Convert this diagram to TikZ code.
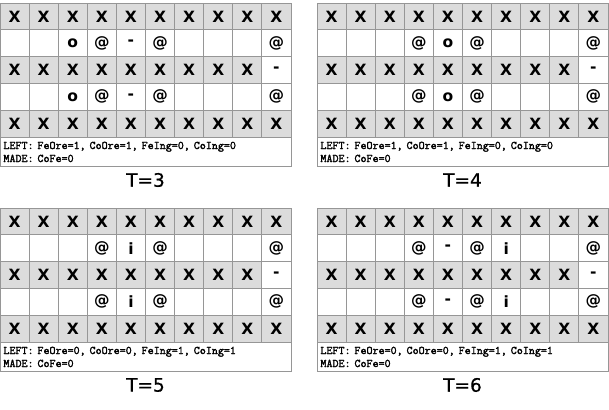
\documentclass[tikz,border=0pt]{standalone}
\usepackage{fontspec}
\usepackage{tikz}

\newfontfamily\cellfamily{DejaVu Sans}
\newfontfamily\labelfamily{DejaVu Sans}[FakeBold=0.6]
\newfontfamily\infofamily{Latin Modern Mono}[FakeBold=2]

\definecolor{cellgray}{RGB}{220,220,220}
\definecolor{cellline}{RGB}{150,150,150}

\tikzset{
  xcell/.style={draw=cellline, line width=0.9pt, fill=cellgray,
    minimum width=29.1pt, minimum height=26.8pt, inner sep=0pt,
    font=\cellfamily\bfseries\fontsize{15.5}{18}\selectfont},
  ecell/.style={xcell, fill=white},
  infobox/.style={draw=cellline, line width=0.9pt, fill=white, anchor=north west,
    minimum width=291pt, minimum height=29pt, text width=285pt, inner sep=3pt,
    align=left, font=\infofamily\fontsize{11.7}{13}\selectfont},
  tlabel/.style={font=\labelfamily\fontsize{18.5}{21}\selectfont}
}

\newcommand{\cellsym}[1]{\if.#1\else#1\fi}

\begin{document}
\begin{tikzpicture}[x=1pt, y=-1pt]
				\useasboundingbox (0,0) rectangle (609,409);
				% one grid per time step
				\foreach \g/\gx/\gy/\t/\syms/\ore/\ing in {
				  a/0/3/3/{.,.,o,@,-,@,.,.,.,@}/1/0,
				  b/317/3/4/{.,.,.,@,o,@,.,.,.,@}/1/0,
				  c/0/208/5/{.,.,.,@,i,@,.,.,.,@}/0/1,
				  d/317/208/6/{.,.,.,@,-,@,i,.,.,@}/0/1} {
				  \begin{scope}[shift={(\gx,\gy)}]
				    % wall rows
				    \foreach \r in {1,5} {
				      \foreach \c in {1,...,10}
				        \node[xcell] (\g-\r-\c) at ({(\c-.5)*29.1},{(\r-.5)*26.8}) {X};
				    }
				    \foreach \c in {1,...,9}
				      \node[xcell] (\g-3-\c) at ({(\c-.5)*29.1},{2.5*26.8}) {X};
				    \node[ecell] (\g-3-10) at ({9.5*29.1},{2.5*26.8}) {-};
				    % open rows
				    \foreach \r in {2,4} {
				      \foreach \s [count=\c] in \syms
				        \node[ecell] (\g-\r-\c) at ({(\c-.5)*29.1},{(\r-.5)*26.8}) {\cellsym{\s}};
				    }
				    \node[infobox] (\g-info) at (0,134) {LEFT: FeOre=\ore, CoOre=\ore, FeIng=\ing, CoIng=\ing\\MADE: CoFe=0};
				    \node[tlabel] (\g-time) at (145.5,177) {T=\t};
				  \end{scope}
				}
			\end{tikzpicture}
\end{document}
